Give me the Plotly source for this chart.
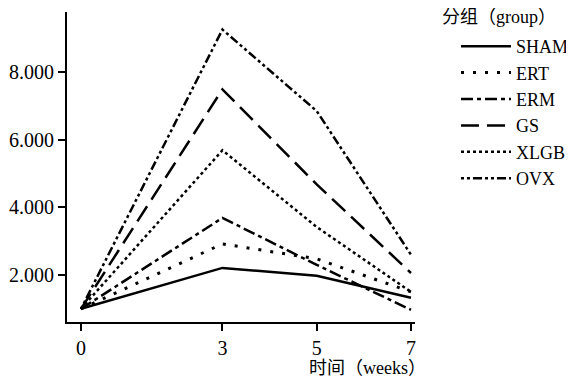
import plotly.graph_objects as go

weeks = [0, 3, 5, 7]
groups = ["SHAM", "ERT", "ERM", "GS", "XLGB", "OVX"]
sham = [1.0, 2.21, 1.98, 1.33]
ert = [1.0, 2.92, 2.48, 1.50]
erm = [1.0, 3.69, 2.30, 0.97]
gs = [1.0, 7.49, 4.68, 2.06]
xlgb = [1.0, 5.69, 3.42, 1.50]
ovx = [1.0, 9.26, 6.85, 2.60]
series = [sham, ert, erm, gs, xlgb, ovx]
ytick_vals = [2, 4, 6, 8]
ytick_text = ["2.000", "4.000", "6.000", "8.000"]

dashes = ["solid", "3px,9px", "12px,4px,4px,4px", "18px,8px", "3px,3px", "3px,3px,3px,3px,9px,3px"]
widths = [2.5, 3, 2.5, 2.5, 2.5, 2.5]

FONT = "'Liberation Serif', 'Times New Roman', 'Noto Sans CJK SC', serif"

# page body adds an 8px offset, so figure is sized to fit the visible window
W, H = 566, 373

fig = go.Figure()
for name, vals, d, w in zip(groups, series, dashes, widths):
    fig.add_trace(go.Scatter(x=weeks, y=vals, mode="lines", name=name,
                             line=dict(color="black", dash=d, width=w)))

fig.update_layout(
    width=W, height=H,
    margin=dict(l=59, r=159, t=4, b=59, autoexpand=False),
    paper_bgcolor="white", plot_bgcolor="white",
    font=dict(family=FONT, color="black", size=18),
    showlegend=True,
    legend=dict(xref="container", yref="container", x=448 / W, y=1 - 20 / H,
                xanchor="left", yanchor="top",
                font=dict(size=18, family=FONT), itemwidth=50,
                bgcolor="rgba(0,0,0,0)"),
    xaxis=dict(range=[-0.297, 7.085], tickvals=weeks, showline=True, linecolor="black",
               linewidth=2, ticks="outside", ticklen=7, tickwidth=1.5, tickcolor="black",
               showgrid=False, zeroline=False, tickfont=dict(size=20)),
    yaxis=dict(range=[0.61, 9.78], tickvals=ytick_vals, ticktext=ytick_text, showline=True,
               linecolor="black", linewidth=2, ticks="outside", ticklen=7, tickwidth=1.5,
               tickcolor="black", showgrid=False, zeroline=False, tickfont=dict(size=20)),
    annotations=[
        dict(text="时间（weeks）", xref="paper", yref="paper", x=1.037, y=-0.148,
             xanchor="right", yanchor="middle", showarrow=False,
             font=dict(size=18, family=FONT)),
        dict(text="分组（group）", xref="paper", yref="paper", x=1.072, y=0.984,
             xanchor="left", yanchor="middle", showarrow=False,
             font=dict(size=18, family=FONT)),
    ],
)

fig.write_html("out.html")
